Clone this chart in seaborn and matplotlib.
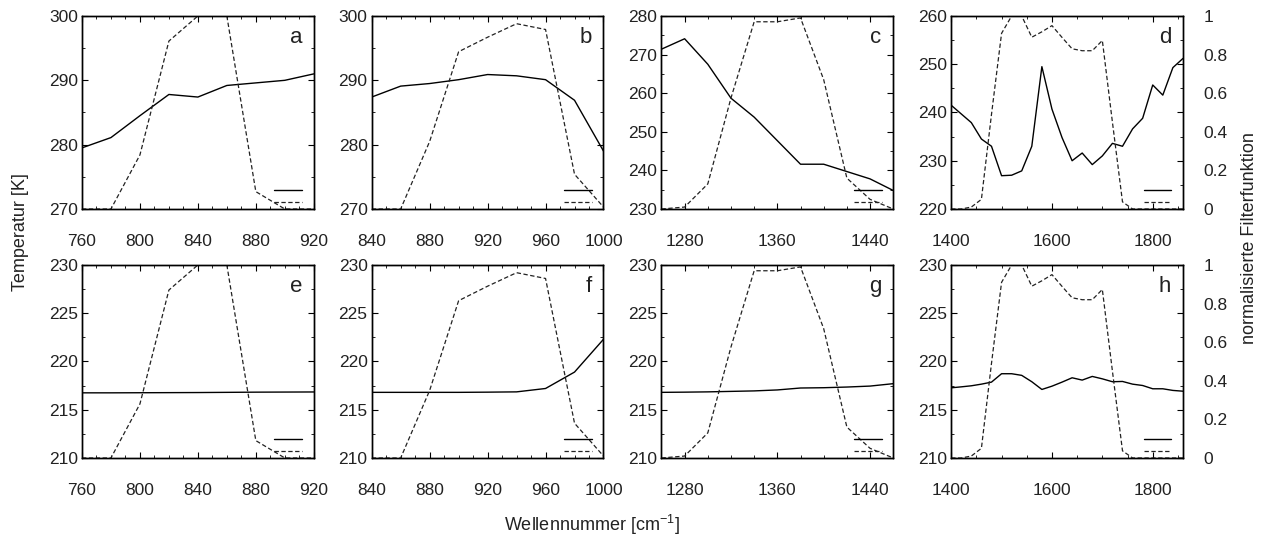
import numpy as np
import pandas as pd
import seaborn as sns
import matplotlib.pyplot as plt
from matplotlib.ticker import MultipleLocator

###################
# Data
wn_1 = [760, 780, 800, 820, 840, 860, 880, 900, 920]
wn_2 = [840, 860, 880, 900, 920, 940, 960, 980, 1000]
wn_3 = [1260, 1280, 1300, 1320, 1340, 1360, 1380, 1400, 1420, 1440, 1460]
wn_4 = [1400, 1420, 1440, 1460, 1480, 1500, 1520, 1540, 1560, 1580, 1600, 1620,
        1640, 1660, 1680, 1700, 1720, 1740, 1760, 1780, 1800, 1820, 1840, 1860]

filt_1 = [0, 0, 0.28, 0.87, 1.0, 1.0, 0.09, 0.0, 0.0]
filt_2 = [0, 0, 0.35, 0.815, 0.89, 0.96, 0.93, 0.18, 0.01]
filt_3 = [0, 0.01, 0.13, 0.575, 0.97, 0.97, 0.99, 0.67, 0.16, 0.05, 0.0]
filt_4 = [0, 0, 0.01, 0.05, 0.49, 0.91, 1.0, 1.0, 0.89, 0.918, 0.95, 0.889,
          0.83, 0.82, 0.82, 0.873, 0.45, 0.037, 0, 0, 0, 0, 0, 0]

temp_a = [279.5, 281.1, 284.5, 287.8, 287.4, 289.2, 289.6, 290.0, 291.0]
temp_b = [287.4, 289.1, 289.5, 290.1, 290.9, 290.7, 290.1, 286.9, 279.0]
temp_c = [271.4, 274.1, 267.5, 258.7, 253.8, 247.7, 241.6, 241.6, 239.7, 237.8, 234.8]
temp_d = [241.5, 239.7, 237.9, 234.5, 233.0, 226.9, 227.0, 227.9, 233.0, 249.5, 240.7, 234.8,
          230.0, 231.6, 229.2, 231.0, 233.6, 233.0, 236.6, 238.8, 245.7, 243.6, 249.3, 251.2]
temp_e = [216.75, 216.75, 216.76, 216.77, 216.78, 216.8, 216.82, 216.83, 216.84]
temp_f = [216.8, 216.8, 216.8, 216.8, 216.82, 216.85, 217.2, 218.9, 222.3]
temp_g = [216.8, 216.82, 216.85, 216.9, 216.95, 217.05, 217.25, 217.28, 217.35, 217.45, 217.7]
temp_h = [217.27, 217.37, 217.48, 217.65, 217.86, 218.73, 218.73, 218.56, 217.9, 217.1, 217.44, 217.86,
          218.31, 218.07, 218.45, 218.2, 217.9, 217.93, 217.65, 217.51, 217.17, 217.17, 217.0, 216.92]

###################
# Setup
sns.set_style("ticks")
plt.rcParams['font.family'] = ['Liberation Sans', 'DejaVu Sans']
plt.rcParams['mathtext.fontset'] = 'custom'
plt.rcParams['mathtext.rm'] = 'Liberation Sans'
plt.rcParams['axes.edgecolor'] = 'black'
plt.rcParams['axes.linewidth'] = 1.0

txt = '#222222'

# letter, x, T, filter, xlim, ylim, x major, x minor, y major, y minor
panels = [
    ("a", wn_1, temp_a, filt_1, (760, 920), (270, 300), 40, 10, 10, 5),
    ("b", wn_2, temp_b, filt_2, (840, 1000), (270, 300), 40, 10, 10, 5),
    ("c", wn_3, temp_c, filt_3, (1260, 1460), (230, 280), 80, 20, 10, 5),
    ("d", wn_4, temp_d, filt_4, (1400, 1860), (220, 260), 200, 50, 10, 5),
    ("e", wn_1, temp_e, filt_1, (760, 920), (210, 230), 40, 10, 5, 2.5),
    ("f", wn_2, temp_f, filt_2, (840, 1000), (210, 230), 40, 10, 5, 2.5),
    ("g", wn_3, temp_g, filt_3, (1260, 1460), (210, 230), 80, 20, 5, 2.5),
    ("h", wn_4, temp_h, filt_4, (1400, 1860), (210, 230), 200, 50, 5, 2.5),
]

fig, axes = plt.subplots(2, 4, figsize=(12.69, 5.4), dpi=100)
fig.subplots_adjust(left=0.0646, right=0.9322, top=0.9704, bottom=0.1519,
                    wspace=0.25, hspace=0.29)

for ax, (letter, wn, temp, filt, xl, yl, xmaj, xmin, ymaj, ymin) in zip(axes.flat, panels):
    df = pd.DataFrame({"wn": wn, "T": temp, "F": filt})
    sns.lineplot(data=df, x="wn", y="T", ax=ax, color="black", linewidth=1.0)
    ax2 = ax.twinx()
    sns.lineplot(data=df, x="wn", y="F", ax=ax2, color="#222222", linewidth=0.9,
                 linestyle=(0, (3.5, 2)))

    ax.set_xlim(xl)
    ax.set_ylim(yl)
    ax2.set_ylim(0, 1)
    ax.xaxis.set_major_locator(MultipleLocator(xmaj))
    ax.xaxis.set_minor_locator(MultipleLocator(xmin))
    ax.yaxis.set_major_locator(MultipleLocator(ymaj))
    ax.yaxis.set_minor_locator(MultipleLocator(ymin))
    ax.tick_params(which='both', direction='in', top=True, right=True, colors='black',
                   labelcolor=txt, labelsize=12.5)
    ax.tick_params(which='major', length=4, width=0.8)
    ax.tick_params(which='minor', length=2, width=0.6)
    ax.tick_params(axis='x', pad=18)
    ax.tick_params(axis='y', pad=3)
    ax.set_xlabel("")
    ax.set_ylabel("")
    ax2.set_ylabel("")

    ax2.set_yticks([0, 0.2, 0.4, 0.6, 0.8, 1.0])
    ax2.set_yticklabels(["0", "0.2", "0.4", "0.6", "0.8", "1"])
    if letter in ("d", "h"):
        ax2.tick_params(axis='y', length=0, pad=15, labelsize=12.5, labelcolor=txt)
    else:
        ax2.tick_params(axis='y', length=0, labelright=False)

    ax2.legend([ax.lines[0], ax2.lines[0]], ["", ""], loc="lower right",
               bbox_to_anchor=(0.955, 0.0), frameon=False,
               handlelength=2.5, handletextpad=0, borderaxespad=0, borderpad=0.1,
               labelspacing=0.2, fontsize=8)
    ax2.text(0.95, 0.89, letter, transform=ax.transAxes, ha='right', va='center',
             fontsize=16, color=txt)

###################
# Labels
fig.text(0.016, 0.57, "Temperatur [K]", rotation=90, ha='center', va='center',
         fontsize=13, color=txt)
fig.text(0.985, 0.56, "normalisierte Filterfunktion", rotation=90, ha='center', va='center',
         fontsize=13, color=txt)
fig.text(0.4665, 0.028, r"Wellennummer [cm$^{\mathregular{-1}}$]", ha='center', va='center',
         fontsize=13, color=txt)

fig.savefig("out.png", dpi=100)
